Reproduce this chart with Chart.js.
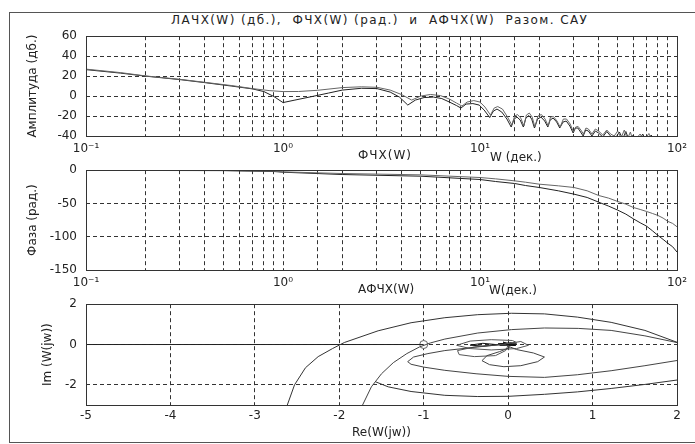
<!DOCTYPE html>
<html>
<head>
<meta charset="utf-8">
<script src="https://cdn.jsdelivr.net/npm/chart.js@4"></script>
<style>
  body { margin: 0; background: #fff; }
  #page { position: relative; width: 695px; height: 444px; overflow: hidden; }
  .frame { position: absolute; left: 9px; top: 12px; width: 720px; height: 429px; border: 1px solid #555; }
  .txt { position: absolute; font: 12px 'DejaVu Sans'; color: #222; white-space: pre; line-height: 14px; }
  .box { position: absolute; left: 0; width: 695px; }
</style>
</head>
<body>
<div id="page">
  <div class="frame"></div>
  <div class="txt" style="left:171px;top:13px;letter-spacing:1.4px;">ЛАЧХ(W) (дб.),  ФЧХ(W) (рад.)  и  АФЧХ(W)  Разом. САУ</div>
  <div class="box" style="top:20px;height:146px;"><canvas id="ampChart"></canvas></div>
  <div class="box" style="top:154px;height:146px;"><canvas id="phaseChart"></canvas></div>
  <div class="box" style="top:288px;height:155px;"><canvas id="nyqChart"></canvas></div>
  <div class="txt" style="left:358px;top:148px;letter-spacing:1px;">ФЧХ(W)</div>
  <div class="txt" style="left:490px;top:150px;">W (дек.)</div>
  <div class="txt" style="left:358px;top:282px;">АФЧХ(W)</div>
  <div class="txt" style="left:489px;top:283px;">W(дек.)</div>
</div>
<script>
// ЛАЧХ: два варианта
const ampFreqA = [0.1,0.15,0.2,0.3,0.4,0.55,0.7,0.85,1.0,1.2,1.5,2.0,2.5,3.0,3.5,4.0,4.5,5.0,5.6,6.3,7.0,7.6,8.1,8.6,9.3,10.0,10.6,11.3,11.8,12.3,13.0,13.8,14.5,15.0,15.5,16.1,16.7,17.2,17.8,18.4,19.0,19.7,20.5,21.4,22.2,22.8,23.6,24.6,25.5,26.5,27.5,28.7,29.8,30.6,31.5,32.5,33.5,34.5,35.5,37,38.5,40,42,44,46,48,50,52,54,56,58,60,65,68,72,76,85,100];
const ampA = [27,23.5,20.2,16.8,13.8,10.5,7.5,5.5,4.5,4.6,5.8,8.5,9.3,8.8,6,1.5,-4,0,1.6,0.5,-3,-7,-10,-6,-4.5,-6,-11,-19,-12,-10.5,-13,-21,-29,-20,-18.5,-22,-30,-19,-17,-21,-31,-20,-18.5,-23,-30,-21,-20.5,-25,-31,-23,-23,-28,-36,-31,-30.5,-34,-38,-32,-33,-38,-33,-35,-39,-34,-38,-40,-35,-42,-34,-43,-36,-46,-38,-45,-37.5,-48,-55,-60];
const ampFreqB = [0.1,0.15,0.2,0.3,0.4,0.55,0.7,0.8,0.9,1.0,1.15,1.4,1.7,2.0,2.5,3.0,3.5,3.9,4.3,4.7,5.2,5.8,6.4,7.0,7.6,8.0,8.5,9.2,9.9,10.5,11.2,11.7,12.2,12.9,13.7,14.4,14.9,15.4,16.0,16.6,17.1,17.7,18.3,18.9,19.6,20.4,21.3,22.1,22.7,23.5,24.5,25.4,26.4,27.4,28.6,29.7,30.5,31.4,32.4,33.4,34.4,35.5,37,38.5,40,42,44,46,48,51,53,55,57,60,63,67,70,74,78,90,100];
const ampB = [26.5,23,20,16.5,13.5,10,7.2,4.5,-0.5,-6.5,-4,-0.5,3,6,7.8,7.5,4,-1,-9,-4,-1.5,-1,-2.5,-6,-9.5,-12,-8,-7.5,-9,-14,-21.5,-15,-13,-16,-23,-31,-23,-21,-24,-31,-22,-19.5,-23,-32,-23,-21,-25,-31,-24,-22,-26,-32,-26,-25,-30,-37,-32,-32,-36,-40,-34,-35,-40,-35,-37,-41,-35.5,-40,-44,-36,-43,-35.5,-44,-39,-47,-38,-46,-39,-50,-56,-60];

// ФЧХ
const phaseFreq = [0.1,0.5,0.9,1,2,5,10,12,15,17,20,25,30,35,40,45,50,55,60,65,70,75,80,85,90,95,100];
const phaseA = [-0.3,-0.5,-1.5,-2.5,-5,-7,-11,-13,-16,-18,-21,-23.5,-26,-31,-38,-42,-47,-51,-56,-59,-62,-65,-68,-72,-77,-80,-85];
const phaseB = [-0.3,-0.6,-2,-3,-6.5,-9,-14,-17,-20,-23,-26,-31,-36,-41,-48,-54,-60,-66,-73,-79,-84,-91,-98,-104,-110,-115,-123];

// АФЧХ, участки годографа [Re, Im]
const nyqA = [[-2.62,-3.05],[-2.53,-2],[-2.4,-1.15],[-2.25,-0.6],[-2.08,-0.2],[-1.94,0.1],[-1.54,0.68],[-1.15,1.08],[-0.75,1.33],[-0.36,1.48],[0.04,1.55],[0.43,1.52],[0.82,1.36],[1.22,1.1],[1.62,0.7],[2.02,0.08]];
const nyqB = [[-1.73,-3.05],[-1.62,-2.1],[-1.5,-1.45],[-1.36,-0.9],[-1.2,-0.45],[-1.05,-0.12],[-0.92,0.08],[-0.75,0.27],[-0.36,0.57],[0.04,0.74],[0.43,0.82],[0.83,0.8],[1.22,0.7],[1.62,0.43],[2.02,0.08]];
const nyqC = [[2.02,-0.78],[1.62,-1.05],[1.22,-1.3],[0.82,-1.5],[0.43,-1.63],[0.0,-1.58],[-0.38,-1.45],[-0.75,-1.28],[-1.0,-1.12],[-1.15,-0.98],[-1.19,-0.85],[-1.12,-0.62],[-0.95,-0.45],[-0.75,-0.3],[-0.36,-0.12],[-0.04,0.02]];
const nyqD = [[2.02,-1.75],[1.62,-1.98],[1.22,-2.18],[0.82,-2.35],[0.43,-2.47],[0.0,-2.57],[-0.36,-2.58],[-0.75,-2.52],[-1.15,-2.33],[-1.42,-2.1],[-1.57,-1.85]];
const nyqE = [[-0.05,0.0],[0.1,-0.25],[0.3,-0.42],[0.43,-0.62],[0.35,-0.85],[0.15,-1.05],[-0.05,-1.1],[-0.22,-1.0],[-0.31,-0.8],[-0.25,-0.55],[-0.1,-0.35],[0.02,-0.15]];
const nyqF = [[-0.05,0.02],[0.15,0.15],[0.24,-0.04],[0.1,-0.2],[-0.2,-0.27],[-0.45,-0.2],[-0.61,-0.04],[-0.45,0.17],[-0.2,0.24],[0.05,0.2],[0.1,0.1]];
const nyqG = [[-0.05,0.0],[-0.4,-0.12],[-0.6,-0.3],[-0.58,-0.5],[-0.4,-0.6],[-0.15,-0.55],[-0.03,-0.3],[0,-0.05]];
const nyqCore = [[0.08,0.1],[-0.1,-0.04],[0.09,-0.05],[-0.06,0.12],[0,0],[0.1,0.03],[-0.12,0.03],[0.04,0.08],[-0.3,-0.08],[-0.45,-0.03],[-0.3,0.06],[-0.15,0.0]];
const nyqAxis = [[-5,0],[-1,0]];
const critPoint = [[-1,0]];

const decadeLabels = ['10⁻¹', '10⁰', '10¹', '10²'];
const nyqYTicks = [-2, 0, 2];

Chart.defaults.font.family = "'DejaVu Sans'";
Chart.defaults.font.size = 12;
Chart.defaults.color = '#222';

const frameBox = {
  id: 'frameBox',
  afterDatasetsDraw(chart) {
    const { ctx, chartArea: a } = chart;
    ctx.save();
    ctx.strokeStyle = '#333';
    ctx.lineWidth = 1;
    ctx.strokeRect(Math.round(a.left) + 0.5, Math.round(a.top) + 0.5, Math.round(a.right - a.left), Math.round(a.bottom - a.top));
    ctx.restore();
  }
};

const pairs = (xs, ys) => xs.map((x, i) => ({ x, y: ys[i] }));
const pts = arr => arr.map(p => ({ x: p[0], y: p[1] }));
const line = (data, color) => ({ data, borderColor: color, borderWidth: 1, pointRadius: 0, tension: 0, fill: false, showLine: true });

const gridOpts = { color: '#333', drawTicks: false };
const borderOpts = { display: false, dash: [4, 3] };

function logAxis(h) {
  return {
    type: 'logarithmic', min: 0.1, max: 100,
    afterFit: s => { s.height = h; },
    grid: gridOpts, border: borderOpts,
    ticks: {
      autoSkip: false, maxRotation: 0, padding: 6,
      callback: v => {
        const e = Math.log10(v);
        return Math.abs(e - Math.round(e)) < 1e-6 ? decadeLabels[Math.round(e) + 1] : '';
      }
    }
  };
}

function yAxis(min, max, step, w, text) {
  return {
    min, max, afterFit: s => { s.width = w; },
    grid: gridOpts, border: borderOpts,
    ticks: { stepSize: step, padding: 9 },
    title: { display: true, text, padding: { top: 6, bottom: 0 } }
  };
}

function baseOpts(padLeft, padTop, scales) {
  return {
    animation: false, responsive: true, maintainAspectRatio: false, devicePixelRatio: 1,
    layout: { padding: { left: padLeft, right: 18, top: padTop, bottom: 0 } },
    plugins: { legend: { display: false }, tooltip: { enabled: false } },
    scales
  };
}

new Chart(document.getElementById('ampChart'), {
  type: 'line',
  data: { datasets: [line(pairs(ampFreqA, ampA), '#666'), line(pairs(ampFreqB, ampB), '#222')] },
  options: baseOpts(20, 0, { x: logAxis(30), y: yAxis(-40, 60, 20, 66, 'Амплитуда (дб.)') }),
  plugins: [frameBox]
});

new Chart(document.getElementById('phaseChart'), {
  type: 'line',
  data: { datasets: [line(pairs(phaseFreq, phaseA), '#666'), line(pairs(phaseFreq, phaseB), '#222')] },
  options: baseOpts(20, 0, { x: logAxis(30), y: yAxis(-150, 0, 50, 66, 'Фаза (рад.)') }),
  plugins: [frameBox]
});

const nyqY = yAxis(-3, 2, 1, 51, 'Im (W(jw))');
nyqY.afterBuildTicks = s => { s.ticks = nyqYTicks.map(v => ({ value: v })); };

new Chart(document.getElementById('nyqChart'), {
  type: 'scatter',
  data: {
    datasets: [
      line(pts(nyqA), '#333'), line(pts(nyqB), '#444'), line(pts(nyqC), '#444'), line(pts(nyqD), '#333'),
      line(pts(nyqE), '#444'), line(pts(nyqF), '#555'), line(pts(nyqG), '#555'), line(pts(nyqCore), '#111'),
      line(pts(nyqAxis), '#222'),
      { data: pts(critPoint), showLine: false, pointRadius: 4, borderColor: '#666', backgroundColor: '#fff', borderWidth: 1 }
    ]
  },
  options: baseOpts(35, 0, {
    x: {
      type: 'linear', min: -5, max: 2,
      afterFit: s => { s.height = 38; },
      grid: gridOpts, border: borderOpts,
      ticks: { stepSize: 1, padding: 4 },
      title: { display: true, text: 'Re(W(jw))', padding: { top: 0, bottom: 3 } }
    },
    y: nyqY
  }),
  plugins: [frameBox]
});
</script>
</body>
</html>
